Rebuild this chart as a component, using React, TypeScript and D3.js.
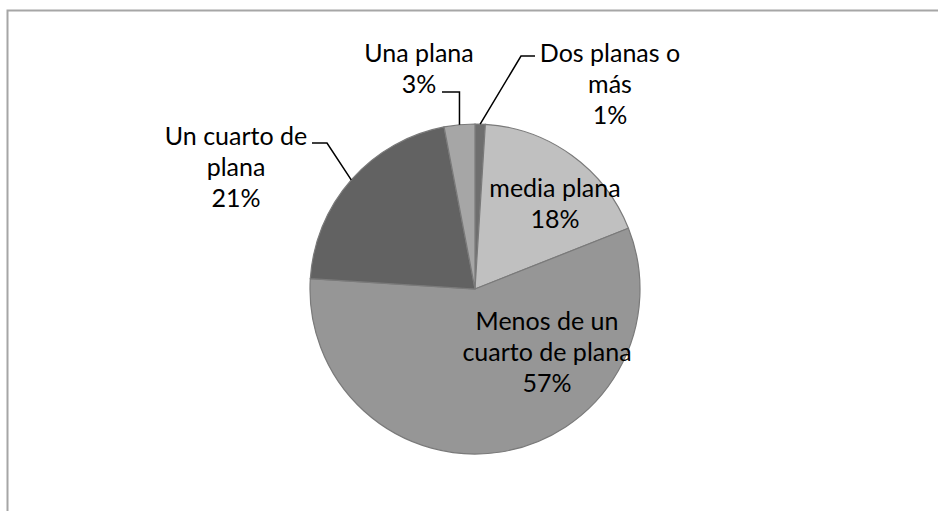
import React from "react";
import * as d3 from "d3";

const categories = [
  "Dos planas o más",
  "media plana",
  "Menos de un cuarto de plana",
  "Un cuarto de plana",
  "Una plana",
];
const values = [1, 18, 57, 21, 3];
const nameLines = [
  ["Dos planas o", "más"],
  ["media plana"],
  ["Menos de un", "cuarto de plana"],
  ["Un cuarto de", "plana"],
  ["Una plana"],
];
const colors = ["#6e6e6e", "#c0c0c0", "#969696", "#626262", "#a6a6a6"];

// layout (label anchors: center x, first baseline; leader elbows)
const labelAnchors = [
  { x: 610, y: 61.7 },
  { x: 555, y: 197 },
  { x: 547, y: 330 },
  { x: 236, y: 145 },
  { x: 419, y: 61.7 },
];
const leaders: ({ elbow: [number, number]; end: [number, number]; vertical?: boolean } | null)[] = [
  { elbow: [521, 56], end: [535, 56] },
  null,
  null,
  { elbow: [327, 143], end: [312, 143] },
  { elbow: [0, 92], end: [442, 92], vertical: true },
];

const W = 938;
const H = 511;
const cx = 475;
const cy = 289;
const R = 165;
const LINE = 31;

export default function App() {
  const total = d3.sum(values);
  const pie = d3
    .pie<number>()
    .sort(null)
    .value((d) => d)
    .startAngle(0)
    .endAngle(2 * Math.PI);
  const arcs = pie(values);
  const arc = d3.arc<d3.PieArcDatum<number>>().innerRadius(0).outerRadius(R);
  const fmt = (v: number) => `${Math.round((v / total) * 100)}%`;

  return (
    <svg
      width={W}
      height={H}
      style={{ position: "absolute", left: 0, top: 0, background: "#fff" }}
    >
      <path d={`M7.5,${H} V10.5 H${W}`} fill="none" stroke="#a6a6a6" strokeWidth={2} />
      <g transform={`translate(${cx},${cy})`}>
        {arcs.map((a, i) => (
          <path
            key={categories[i]}
            d={arc(a) || ""}
            fill={colors[i]}
            stroke="#7a7a7a"
            strokeWidth={1.2}
          />
        ))}
      </g>
      {arcs.map((a, i) => {
        const L = leaders[i];
        if (!L) return null;
        const mid = (a.startAngle + a.endAngle) / 2;
        const px = cx + R * Math.sin(mid);
        const py = cy - R * Math.cos(mid);
        const elbow = L.vertical ? [px, L.end[1]] : L.elbow;
        return (
          <path
            key={"l" + i}
            d={`M${px},${py} L${elbow[0]},${elbow[1]} L${L.end[0]},${L.end[1]}`}
            fill="none"
            stroke="#000"
            strokeWidth={1.5}
          />
        );
      })}
      {arcs.map((a, i) => {
        const lines = [...nameLines[i], fmt(values[i])];
        const p = labelAnchors[i];
        return (
          <text
            key={"t" + i}
            x={p.x}
            y={p.y}
            textAnchor="middle"
            fontFamily="Lato, 'Open Sans', sans-serif"
            fontSize={25}
            fill="#000"
          >
            {lines.map((s, j) => (
              <tspan key={j} x={p.x} y={p.y + j * LINE}>
                {s}
              </tspan>
            ))}
          </text>
        );
      })}
    </svg>
  );
}
